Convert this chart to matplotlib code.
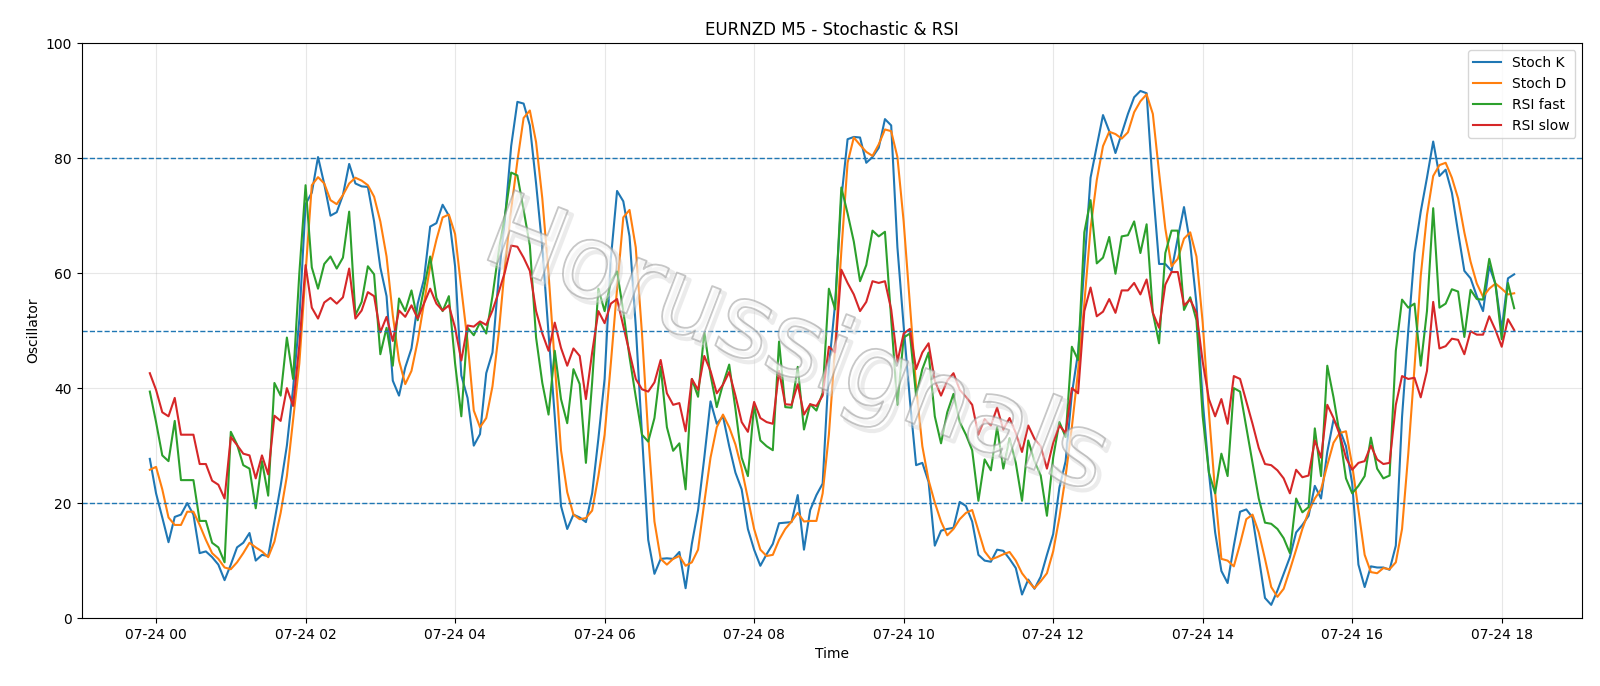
import matplotlib
matplotlib.use("Agg")
import matplotlib.pyplot as plt
import matplotlib.dates as mdates
import matplotlib.patheffects as pe
import pandas as pd

# 5-minute bars, 23:55 -> 18:10
times = pd.date_range("2025-07-23 23:55", periods=220, freq="5min")

stoch_k = [
    27.7, 21.7, 17.5, 13.2, 17.6, 18.0, 20.0, 18.0, 11.3, 11.6,
    10.6, 9.3, 6.6, 9.3, 12.3, 13.1, 14.8, 10.0, 11.0, 10.8,
    16.8, 23.0, 30.0, 40.0, 52.0, 72.0, 74.0, 80.2, 75.5, 70.0,
    70.6, 73.6, 79.0, 75.6, 75.1, 75.0, 69.0, 61.0, 56.0, 41.3,
    38.7, 43.6, 46.9, 54.7, 58.9, 68.1, 68.7, 71.9, 70.0, 61.2,
    42.2, 38.3, 30.0, 32.0, 42.6, 46.2, 59.3, 69.4, 82.1, 89.8,
    89.5, 85.7, 75.6, 64.5, 49.5, 35.1, 19.5, 15.5, 18.0, 17.5,
    16.7, 21.7, 31.2, 41.6, 62.5, 74.3, 72.5, 66.4, 50.8, 31.9,
    13.6, 7.7, 10.3, 10.4, 10.3, 11.5, 5.2, 12.9, 18.8, 27.9,
    37.7, 33.8, 35.1, 29.9, 25.3, 22.4, 15.5, 11.9, 9.1, 11.1,
    12.9, 16.5, 16.6, 16.7, 21.4, 11.9, 18.8, 21.4, 23.4, 43.6,
    54.7, 73.0, 83.3, 83.7, 83.6, 79.2, 80.2, 81.8, 86.8, 85.7,
    64.5, 50.8, 38.0, 26.6, 27.0, 23.7, 12.6, 15.2, 15.5, 15.7,
    20.2, 19.5, 16.8, 11.0, 10.0, 9.8, 11.9, 11.7, 10.3, 8.7,
    4.1, 6.7, 5.1, 7.2, 11.0, 14.6, 22.7, 27.3, 39.0, 46.2,
    61.2, 76.6, 82.1, 87.5, 84.7, 80.9, 84.3, 87.7, 90.6, 91.7,
    91.3, 75.0, 61.6, 61.6, 60.4, 66.1, 71.5, 65.1, 54.7, 37.9,
    25.3, 14.9, 8.2, 6.1, 12.6, 18.5, 18.9, 17.5, 10.6, 3.5,
    2.3, 4.8, 7.7, 10.6, 14.9, 16.2, 17.8, 23.0, 20.8, 28.9,
    34.5, 32.8, 29.9, 23.4, 9.3, 5.4, 9.0, 8.8, 8.8, 8.4,
    12.6, 35.0, 50.0, 63.5, 70.7, 76.6, 82.9, 76.9, 78.0, 74.0,
    67.1, 60.4, 59.1, 56.0, 53.4, 61.2, 58.1, 50.2, 59.1, 59.8,
]

stoch_d = [
    25.8, 26.3, 22.4, 17.5, 16.2, 16.2, 18.5, 18.5, 16.2, 13.6,
    11.3, 10.3, 8.8, 8.5, 9.7, 11.3, 13.1, 12.3, 11.6, 10.6,
    13.3, 18.3, 24.7, 34.5, 44.3, 60.0, 75.3, 76.7, 75.6, 72.7,
    72.0, 73.6, 75.6, 76.6, 76.1, 75.3, 73.3, 69.0, 62.9, 52.7,
    44.8, 40.7, 43.0, 48.2, 54.7, 61.2, 65.8, 69.7, 70.2, 66.8,
    57.3, 48.2, 36.1, 33.2, 34.8, 40.3, 49.5, 61.2, 71.0, 79.5,
    87.0, 88.3, 82.8, 73.0, 60.0, 44.3, 29.2, 21.9, 18.0, 17.2,
    17.4, 18.7, 24.7, 31.9, 44.3, 57.3, 69.7, 71.0, 64.5, 49.5,
    31.9, 16.8, 10.3, 9.3, 10.3, 10.8, 9.1, 9.7, 11.9, 20.1,
    27.9, 33.2, 35.4, 33.2, 30.2, 26.0, 20.8, 15.5, 11.9, 10.8,
    11.0, 13.6, 15.5, 16.8, 18.3, 16.8, 16.9, 16.9, 21.7, 31.9,
    47.0, 63.8, 79.2, 83.6, 82.3, 81.1, 80.4, 82.4, 85.0, 84.7,
    80.2, 69.0, 54.7, 40.3, 29.9, 24.0, 20.1, 16.8, 14.4, 15.5,
    17.2, 18.3, 18.8, 15.2, 11.6, 10.2, 10.6, 11.1, 11.5, 10.0,
    7.8, 6.4, 5.2, 6.4, 7.8, 11.6, 17.5, 24.7, 33.2, 43.0,
    54.7, 67.8, 76.2, 82.1, 84.6, 84.2, 83.4, 84.5, 88.0, 89.9,
    91.1, 87.7, 77.5, 67.8, 61.2, 62.5, 66.0, 67.1, 62.9, 51.4,
    35.8, 21.9, 10.3, 10.0, 9.0, 12.9, 17.2, 18.0, 14.9, 10.3,
    5.4, 3.7, 5.1, 8.4, 11.9, 15.5, 18.5, 20.8, 22.4, 26.6,
    30.5, 32.2, 32.5, 26.6, 18.8, 11.0, 8.0, 7.8, 8.7, 8.5,
    9.7, 15.5, 28.6, 43.6, 59.5, 70.1, 76.9, 78.8, 79.2, 76.6,
    73.0, 67.1, 62.0, 58.2, 55.9, 57.3, 58.2, 57.3, 56.3, 56.5,
]

rsi_fast = [
    39.4, 34.1, 28.3, 27.3, 34.3, 24.0, 24.0, 24.0, 16.9, 16.9,
    13.1, 12.3, 9.7, 32.4, 30.2, 26.6, 26.0, 19.1, 27.3, 21.3,
    40.9, 38.7, 48.8, 41.6, 60.0, 75.3, 61.0, 57.3, 61.6, 62.9,
    60.8, 62.7, 70.7, 52.7, 55.0, 61.2, 59.8, 45.9, 50.5, 43.9,
    55.6, 53.4, 57.0, 51.8, 57.3, 62.9, 55.7, 53.4, 56.0, 44.3,
    35.1, 50.5, 49.2, 51.4, 49.5, 56.0, 63.8, 70.0, 77.5, 77.0,
    71.0, 64.8, 48.8, 40.9, 35.4, 46.5, 38.1, 33.9, 43.3, 40.7,
    27.0, 41.0, 57.3, 53.4, 58.6, 60.3, 53.4, 45.4, 38.5, 31.9,
    30.7, 34.8, 43.7, 33.2, 29.1, 30.4, 22.4, 41.6, 38.5, 49.8,
    42.3, 36.7, 40.7, 44.1, 36.4, 27.9, 24.7, 37.1, 30.9, 29.9,
    29.2, 48.1, 36.7, 36.6, 43.7, 32.8, 37.2, 36.1, 39.2, 57.3,
    53.7, 74.9, 70.4, 65.5, 58.6, 61.4, 67.4, 66.4, 67.2, 52.0,
    37.1, 48.8, 49.5, 38.7, 43.3, 46.2, 35.1, 30.4, 35.8, 39.0,
    34.1, 31.9, 29.2, 20.4, 27.6, 25.7, 33.2, 26.0, 31.3, 27.0,
    20.4, 30.9, 27.3, 24.8, 17.8, 27.9, 34.1, 31.5, 47.2, 44.9,
    67.1, 72.7, 61.7, 62.7, 66.3, 59.9, 66.4, 66.6, 69.0, 63.5,
    68.5, 53.1, 47.8, 63.5, 67.4, 67.4, 53.6, 55.8, 51.8, 35.1,
    25.3, 21.7, 28.6, 24.7, 40.0, 39.4, 33.2, 27.0, 20.8, 16.6,
    16.4, 15.5, 13.9, 11.3, 20.8, 18.4, 19.3, 33.0, 24.7, 43.9,
    38.4, 31.9, 24.3, 21.7, 23.0, 24.7, 31.4, 26.0, 24.3, 24.8,
    46.5, 55.4, 54.0, 54.7, 43.9, 53.4, 71.3, 54.0, 54.7, 57.2,
    56.8, 48.9, 57.1, 55.5, 55.4, 62.5, 58.0, 48.5, 58.3, 53.9,
]

rsi_slow = [
    42.6, 39.7, 35.8, 35.1, 38.3, 31.9, 31.9, 31.9, 26.8, 26.8,
    23.9, 23.2, 20.8, 31.5, 30.1, 28.6, 28.3, 24.3, 28.3, 25.0,
    35.2, 34.3, 40.0, 36.9, 47.5, 61.4, 54.0, 52.1, 54.9, 55.7,
    54.7, 55.8, 60.8, 52.1, 53.5, 56.7, 56.0, 49.7, 52.4, 48.2,
    53.5, 52.4, 54.4, 52.1, 54.7, 57.3, 54.7, 53.5, 54.4, 50.5,
    44.8, 50.9, 50.7, 51.6, 51.0, 53.5, 56.7, 60.2, 64.8, 64.6,
    62.7, 60.4, 53.4, 49.5, 46.5, 51.4, 47.0, 43.9, 46.9, 45.6,
    38.1, 46.2, 53.4, 51.3, 54.7, 55.5, 50.8, 46.2, 41.6, 39.8,
    39.4, 41.0, 44.9, 39.1, 37.1, 37.4, 32.5, 41.6, 39.7, 45.6,
    43.0, 39.1, 40.6, 42.8, 38.7, 34.1, 32.4, 37.6, 34.8, 34.1,
    33.8, 43.0, 37.2, 37.1, 40.7, 35.4, 37.2, 36.9, 38.7, 47.2,
    46.2, 60.6, 58.3, 56.3, 53.4, 55.0, 58.6, 58.3, 58.6, 53.7,
    44.6, 49.5, 50.3, 43.3, 46.2, 47.8, 41.3, 38.7, 41.3, 42.6,
    39.7, 38.5, 37.1, 31.9, 34.6, 33.5, 36.6, 32.8, 34.8, 32.2,
    28.9, 33.5, 31.2, 29.9, 26.0, 30.5, 33.5, 32.2, 40.0, 39.1,
    53.4, 57.5, 52.5, 53.3, 55.5, 53.1, 57.0, 57.0, 58.3, 56.3,
    58.9, 53.1, 50.5, 58.0, 60.2, 60.2, 54.4, 55.4, 53.1, 44.6,
    38.1, 35.1, 38.1, 33.8, 42.1, 41.6, 37.7, 33.8, 29.6, 26.8,
    26.6, 25.7, 24.3, 21.7, 25.8, 24.5, 24.8, 30.9, 27.9, 37.1,
    34.8, 31.9, 27.9, 25.8, 27.0, 27.3, 30.0, 27.6, 26.8, 27.0,
    37.1, 42.1, 41.6, 41.8, 38.4, 43.0, 55.0, 46.9, 47.3, 48.6,
    48.4, 45.9, 49.9, 49.3, 49.3, 52.5, 50.1, 47.2, 52.0, 50.1,
]

levels = [20, 50, 80]

fig, ax = plt.subplots(figsize=(16, 6.86), dpi=100)
fig.subplots_adjust(left=0.051, right=0.989, top=0.937, bottom=0.099)

ax.plot(times, stoch_k, label="Stoch K", lw=1.5)
ax.plot(times, stoch_d, label="Stoch D", lw=1.5)
ax.plot(times, rsi_fast, label="RSI fast", lw=1.5)
ax.plot(times, rsi_slow, label="RSI slow", lw=1.5)
for lv in levels:
    ax.axhline(lv, color="tab:blue", ls="--", lw=1)

ax.set_ylim(0, 100)
ax.grid(True, alpha=0.3)
ax.xaxis.set_major_locator(mdates.HourLocator(interval=2))
ax.xaxis.set_major_formatter(mdates.DateFormatter("%m-%d %H"))
ax.set_title("EURNZD M5 - Stochastic & RSI")
ax.set_xlabel("Time")
ax.set_ylabel("Oscillator")
ax.legend(loc="upper right")

# водяной знак: светлые буквы с серым контуром и мягкой тенью
ax.text(0.476, 0.47, "Horussignals", transform=ax.transAxes,
        fontsize=74, rotation=-21, ha="center", va="center",
        color="white", zorder=5,
        path_effects=[pe.Stroke(offset=(3, -3), linewidth=3, foreground="#c8c8c8", alpha=0.35),
                      pe.Stroke(linewidth=1.3, foreground="#999999", alpha=0.55)])

fig.savefig("out.png", dpi=100)
